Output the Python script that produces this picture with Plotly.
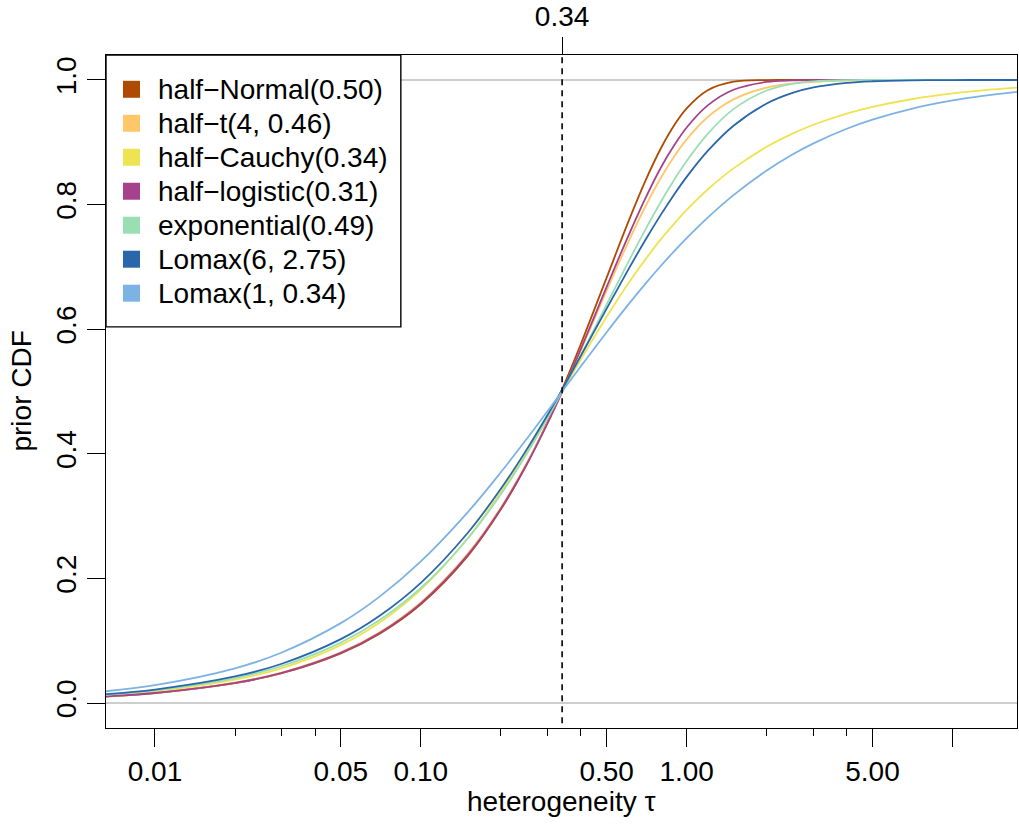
import plotly.graph_objects as go

# ---- data ----
tau = [0.006, 0.01, 0.02, 0.03, 0.05, 0.07, 0.1, 0.15, 0.2, 0.25, 0.3, 0.34, 0.4, 0.5,
       0.6, 0.7, 0.8, 0.9, 1.0, 1.2, 1.5, 2, 2.5, 3, 4, 5, 7, 10, 13, 18]

half_normal = [0.0096, 0.0160, 0.0319, 0.0478, 0.0797, 0.1113, 0.1585, 0.2358, 0.3108, 0.3829,
               0.4515, 0.5035, 0.5763, 0.6827, 0.7699, 0.8385, 0.8904, 0.9281, 0.9545, 0.9836,
               0.9973, 0.9999, 1.0, 1.0, 1.0, 1.0, 1.0, 1.0, 1.0, 1.0]
half_t = [0.0098, 0.0163, 0.0326, 0.0489, 0.0813, 0.1136, 0.1615, 0.2393, 0.3138, 0.3844,
          0.4501, 0.4990, 0.5664, 0.6618, 0.7379, 0.7973, 0.8430, 0.8780, 0.9046, 0.9405,
          0.9689, 0.9879, 0.9944, 0.9971, 0.9990, 0.9996, 0.9999, 1.0, 1.0, 1.0]
half_cauchy = [0.0112, 0.0187, 0.0374, 0.0560, 0.0930, 0.1292, 0.1821, 0.2645, 0.3385, 0.4034,
               0.4601, 0.5000, 0.5515, 0.6199, 0.6722, 0.7121, 0.7445, 0.7700, 0.7914, 0.8242,
               0.8581, 0.8928, 0.9140, 0.9282, 0.9460, 0.9568, 0.9691, 0.9784, 0.9834, 0.9880]
half_logistic = [0.0097, 0.0161, 0.0323, 0.0483, 0.0805, 0.1124, 0.1599, 0.2373, 0.3119, 0.3828,
                 0.4493, 0.4993, 0.5684, 0.6679, 0.7475, 0.8105, 0.8596, 0.8960, 0.9238, 0.9593,
                 0.9843, 0.9969, 0.9994, 0.9999, 1.0, 1.0, 1.0, 1.0, 1.0, 1.0]
exponential = [0.0122, 0.0202, 0.0400, 0.0594, 0.0970, 0.1331, 0.1846, 0.2637, 0.3351, 0.3996,
               0.4578, 0.5004, 0.5580, 0.6396, 0.7061, 0.7603, 0.8046, 0.8407, 0.8701, 0.9136,
               0.9532, 0.9831, 0.9939, 0.9978, 0.9997, 1.0, 1.0, 1.0, 1.0, 1.0]
lomax_6 = [0.0130, 0.0216, 0.0426, 0.0630, 0.1025, 0.1400, 0.1929, 0.2729, 0.3438, 0.4067,
           0.4627, 0.5031, 0.5573, 0.6330, 0.6940, 0.7435, 0.7839, 0.8171, 0.8445, 0.8861,
           0.9266, 0.9623, 0.9793, 0.9880, 0.9954, 0.9980, 0.9995, 0.9999, 1.0, 1.0]
lomax_1 = [0.0173, 0.0286, 0.0556, 0.0811, 0.1282, 0.1707, 0.2273, 0.3061, 0.3704, 0.4237,
           0.4688, 0.5000, 0.5405, 0.5952, 0.6383, 0.6731, 0.7018, 0.7258, 0.7463, 0.7792,
           0.8152, 0.8547, 0.8803, 0.8982, 0.9217, 0.9363, 0.9537, 0.9671, 0.9745, 0.9815]

series_names = ["half\u2212Normal(0.50)", "half\u2212t(4, 0.46)", "half\u2212Cauchy(0.34)",
                "half\u2212logistic(0.31)", "exponential(0.49)", "Lomax(6, 2.75)", "Lomax(1, 0.34)"]
series_values = [half_normal, half_t, half_cauchy, half_logistic, exponential, lomax_6, lomax_1]
series_colors = ["#AF4A03", "#FDC76A", "#EEE351", "#A5428B", "#9ADFB4", "#2967AA", "#7CB2E4"]

median_tau = 0.34
x_major_ticks = [0.01, 0.05, 0.1, 0.5, 1, 5, 10]
x_major_labels = ["0.01", "0.05", "0.10", "0.50", "1.00", "5.00", ""]
x_minor_ticks = [0.02, 0.03, 0.04, 0.2, 0.3, 0.4, 2, 3, 4]
y_ticks = [0, 0.2, 0.4, 0.6, 0.8, 1.0]
y_labels = ["0.0", "0.2", "0.4", "0.6", "0.8", "1.0"]

# ---- layout geometry (pixels) ----
W, H = 1019, 825
L, R, T, B = 106, 1017.5, 55, 728.3
FONT = "Liberation Sans, Arial, Helvetica, sans-serif"
FS = 28


def px(x):
    return (x - L) / (R - L)


def py(y):
    return (B - y) / (B - T)


fig = go.Figure()

for name, vals, col in zip(series_names, series_values, series_colors):
    fig.add_trace(go.Scatter(x=tau, y=vals, mode="lines", name=name,
                             line=dict(color=col, width=1.8, shape="spline", smoothing=1.0),
                             showlegend=False, hoverinfo="skip"))

# vertical dashed line at the median, on the top axis
fig.add_trace(go.Scatter(x=[median_tau, median_tau], y=[-0.05, 1.05], mode="lines",
                         xaxis="x2", yaxis="y",
                         line=dict(color="black", width=1.6, dash="6px,5px"),
                         showlegend=False, hoverinfo="skip"))

shapes = []
for yv in (0.0, 1.0):
    shapes.append(dict(type="line", xref="paper", yref="y", x0=0, x1=1, y0=yv, y1=yv,
                       line=dict(color="#BEBEBE", width=1.4), layer="below"))

# legend box
shapes.append(dict(type="rect", xref="paper", yref="paper",
                   x0=px(106), x1=px(401), y0=py(327), y1=py(55),
                   fillcolor="white", line=dict(color="black", width=1.4), layer="above"))
annotations = []
for i, (name, col) in enumerate(zip(series_names, series_colors)):
    cy = 89.3 + 34 * i
    shapes.append(dict(type="rect", xref="paper", yref="paper",
                       x0=px(123), x1=px(140), y0=py(cy + 8.5), y1=py(cy - 8.5),
                       fillcolor=col, line=dict(color=col, width=0), layer="above"))
    annotations.append(dict(xref="paper", yref="paper", x=px(156), y=py(cy), text=name,
                            showarrow=False, xanchor="left", yanchor="middle",
                            font=dict(family=FONT, size=FS, color="black")))

annotations.append(dict(xref="paper", yref="paper", x=0.5, y=py(802), text="heterogeneity \u03c4",
                        showarrow=False, xanchor="center", yanchor="middle",
                        font=dict(family=FONT, size=FS, color="black")))
annotations.append(dict(xref="paper", yref="paper", x=px(21), y=0.5, text="prior CDF",
                        showarrow=False, xanchor="center", yanchor="middle", textangle=-90,
                        font=dict(family=FONT, size=FS, color="black")))

xrange = [-2.1842, 1.2425]
fig.update_layout(
    width=W, height=H,
    margin=dict(l=L, r=W - R, t=T, b=H - B, pad=0),
    paper_bgcolor="white", plot_bgcolor="white",
    font=dict(family=FONT, size=FS, color="black"),
    xaxis=dict(type="log", range=xrange, tickmode="array", tickvals=x_major_ticks,
               ticktext=x_major_labels, ticks="outside", ticklen=18, tickwidth=1.4,
               tickcolor="black", showgrid=False, zeroline=False,
               showline=True, mirror=True, linecolor="black", linewidth=1.4,
               minor=dict(tickmode="array", tickvals=x_minor_ticks, ticks="outside",
                          ticklen=7, tickwidth=1.4, tickcolor="black", showgrid=False),
               tickfont=dict(family=FONT, size=FS)),
    xaxis2=dict(type="log", range=xrange, overlaying="x", side="top", tickmode="array",
                tickvals=[median_tau], ticktext=["0.34"], ticks="outside", ticklen=17,
                tickwidth=1.4, tickcolor="black", showgrid=False, zeroline=False,
                showline=False, tickfont=dict(family=FONT, size=FS)),
    yaxis=dict(range=[-0.0401, 1.0401], tickmode="array", tickvals=y_ticks, ticktext=y_labels,
               ticks="outside", ticklen=18, tickwidth=1.4, tickcolor="black", tickangle=-90,
               showgrid=False, zeroline=False, showline=True, mirror=True,
               linecolor="black", linewidth=1.4, tickfont=dict(family=FONT, size=FS)),
    shapes=shapes,
    annotations=annotations,
    showlegend=False,
)

fig.write_html("out.html")
